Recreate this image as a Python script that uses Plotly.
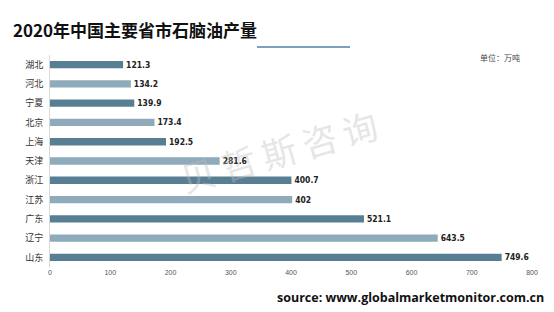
import plotly.graph_objects as go

provinces = ["湖北", "河北", "宁夏", "北京", "上海", "天津", "浙江", "江苏", "广东", "辽宁", "山东"]
values = [121.3, 134.2, 139.9, 173.4, 192.5, 281.6, 400.7, 402, 521.1, 643.5, 749.6]
value_labels = ["121.3", "134.2", "139.9", "173.4", "192.5", "281.6", "400.7", "402", "521.1", "643.5", "749.6"]
x_ticks = [0, 100, 200, 300, 400, 500, 600, 700, 800]

dark = "#587e93"
light = "#8eaabb"
colors = [dark if i % 2 == 0 else light for i in range(len(provinces))]

fig = go.Figure()
fig.add_trace(go.Bar(
    x=values, y=provinces, orientation="h",
    marker=dict(color=colors, line=dict(width=0)),
    text=["<b>" + t + "</b>" for t in value_labels], textposition="outside", cliponaxis=False,
    constraintext="none",
    textfont=dict(family="Liberation Sans Narrow, DejaVu Sans Condensed, sans-serif", size=8.5, color="#222222"),
    hoverinfo="skip",
))

fig.update_layout(
    width=554, height=312,
    margin=dict(l=50, r=22, t=55, b=45),
    paper_bgcolor="white", plot_bgcolor="white",
    bargap=0.62, showlegend=False,
    xaxis=dict(range=[0, 800], tickvals=x_ticks, showgrid=False, zeroline=False,
               showline=False, ticks="", tickfont=dict(size=7, color="#555555", family="Liberation Sans Narrow, sans-serif"),
               fixedrange=True),
    yaxis=dict(categoryorder="array", categoryarray=provinces, autorange="reversed",
               showline=True, linecolor="#d9d9d9", linewidth=1, ticks="", showgrid=False,
               tickfont=dict(size=9, color="#333333", family="Noto Sans CJK SC"), ticksuffix="  "),
    font=dict(family="Noto Sans CJK SC"),
)

fig.add_annotation(text="<b>2020年中国主要省市石脑油产量</b>", xref="paper", yref="paper",
                   x=(11 - 50) / 482, y=1 + (55 - 30) / 211.6, xanchor="left", yanchor="middle",
                   showarrow=False, font=dict(size=17, color="#111111", family="Noto Sans CJK SC"))
fig.add_shape(type="line", xref="paper", yref="paper",
              x0=(257 - 50) / 482, x1=(350 - 50) / 482,
              y0=1 + (55 - 47) / 211.6, y1=1 + (55 - 47) / 211.6,
              line=dict(color="#7f9fc0", width=2))
fig.add_annotation(text="单位：万吨", xref="paper", yref="paper",
                   x=(522 - 50) / 482, y=1 + (55 - 57) / 211.6, xanchor="right", yanchor="middle",
                   showarrow=False, font=dict(size=8, color="#444444", family="Noto Sans CJK SC"))
fig.add_annotation(text="贝\u2009哲\u2009斯\u2009咨\u2009询", xref="paper", yref="paper",
                   x=(278 - 50) / 482, y=1 - (150 - 55) / 211.6, xanchor="center", yanchor="middle",
                   textangle=-16, showarrow=False,
                   font=dict(size=35, color="rgba(190,190,190,0.4)", family="Noto Sans CJK SC"))
fig.add_annotation(text="<b>source: www.globalmarketmonitor.com.cn</b>", xref="paper", yref="paper",
                   x=(546 - 50) / 482, y=1 - (297 - 55) / 211.6, xanchor="right", yanchor="middle",
                   showarrow=False, font=dict(size=12.5, color="#111111", family="Open Sans, sans-serif"))

fig.write_html("out.html")
